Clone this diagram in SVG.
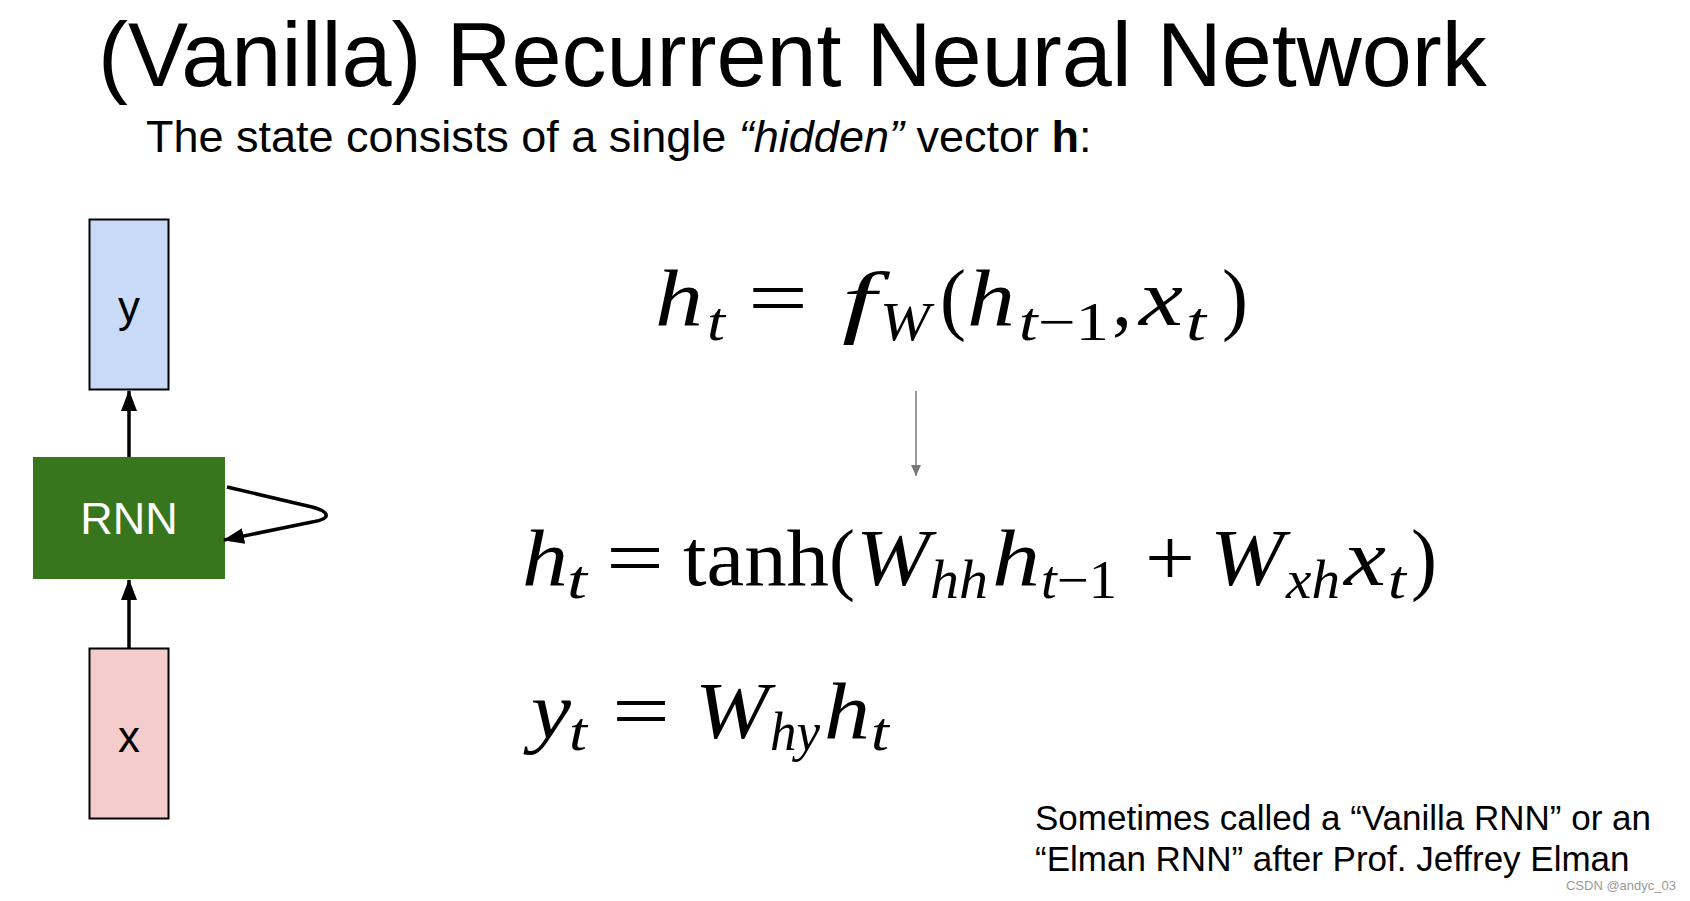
<svg xmlns="http://www.w3.org/2000/svg" width="1690" height="901" viewBox="0 0 1690 901">
<style>
.sans{font-family:"Liberation Sans",Arial,sans-serif;fill:#000}
.m{font-family:"Liberation Serif","Times New Roman",serif;fill:#000;font-size:80px}
.i{font-style:italic}
.s{font-size:54px}
.box{stroke:#000;stroke-width:2}
.edge{fill:none;stroke:#000;stroke-width:3.5}
</style>
<defs>
<marker id="ah" markerUnits="userSpaceOnUse" markerWidth="22" markerHeight="18" refX="20" refY="8" orient="auto">
<path d="M0,0 L21,8 L0,16 z" fill="#000"/>
</marker>
<marker id="ahg" markerUnits="userSpaceOnUse" markerWidth="12" markerHeight="10" refX="11" refY="5" orient="auto">
<path d="M0,0 L11,5 L0,10 z" fill="#777"/>
</marker>
</defs>
<rect width="1690" height="901" fill="#fff"/>
<g id="title">
<text class="sans" x="98" y="86" font-size="90">(Vanilla) Recurrent Neural Network</text>
<text class="sans" x="146" y="152" font-size="45">The state consists of a single <tspan font-style="italic">“hidden”</tspan> vector <tspan font-weight="bold">h</tspan>:</text>
</g>
<g id="node-y">
<rect class="box" x="89.5" y="219.5" width="79" height="170" fill="#c9daf8"/>
<text class="sans" x="129" y="322" font-size="44" text-anchor="middle">y</text>
</g>
<g id="node-rnn">
<rect x="33" y="457" width="192" height="122" fill="#38761d"/>
<text class="sans" x="129" y="534" font-size="45" text-anchor="middle" style="fill:#fff">RNN</text>
</g>
<g id="node-x">
<rect class="box" x="89.5" y="648.5" width="79" height="170" fill="#f4cccc"/>
<text class="sans" x="129" y="752" font-size="44" text-anchor="middle">x</text>
</g>
<g id="connectors">
<line class="edge" x1="129" y1="457" x2="129" y2="391" marker-end="url(#ah)"/>
<line class="edge" x1="129" y1="648" x2="129" y2="580" marker-end="url(#ah)"/>
<path class="edge" d="M227,487 L312,507 C331,512 331,519 312,522 L224,540" marker-end="url(#ah)"/>
<line x1="916" y1="391" x2="916" y2="476" stroke="#777" stroke-width="1.5" marker-end="url(#ahg)"/>
</g>
<g id="eq1">
<text class="m i" x="655" y="325" textLength="48" lengthAdjust="spacingAndGlyphs">h</text>
<text class="m i s" x="707" y="340" textLength="18" lengthAdjust="spacingAndGlyphs">t</text>
<text class="m" x="748" y="325" textLength="60" lengthAdjust="spacingAndGlyphs">=</text>
<text class="m i" x="842" y="328" font-size="92" textLength="34" lengthAdjust="spacingAndGlyphs">f</text>
<text class="m i s" x="880" y="340" textLength="50" lengthAdjust="spacingAndGlyphs">W</text>
<text class="m" x="940" y="325" textLength="26" lengthAdjust="spacingAndGlyphs">(</text>
<text class="m i" x="967" y="325" textLength="48" lengthAdjust="spacingAndGlyphs">h</text>
<text class="m s" x="1019" y="340" textLength="90" lengthAdjust="spacingAndGlyphs"><tspan font-style="italic">t</tspan>−1</text>
<text class="m" x="1112" y="325">,</text>
<text class="m i" x="1139" y="325" textLength="44" lengthAdjust="spacingAndGlyphs">x</text>
<text class="m i s" x="1186" y="340" textLength="20" lengthAdjust="spacingAndGlyphs">t</text>
<text class="m" x="1222" y="325" textLength="26" lengthAdjust="spacingAndGlyphs">)</text>
</g>
<g id="eq2">
<text class="m i" x="522" y="585" textLength="46" lengthAdjust="spacingAndGlyphs">h</text>
<text class="m i s" x="567" y="598" textLength="20" lengthAdjust="spacingAndGlyphs">t</text>
<text class="m" x="606" y="585" textLength="58" lengthAdjust="spacingAndGlyphs">=</text>
<text class="m" x="683" y="585" textLength="146" lengthAdjust="spacingAndGlyphs">tanh</text>
<text class="m" x="829" y="585" textLength="26" lengthAdjust="spacingAndGlyphs">(</text>
<text class="m i" x="856" y="585" textLength="74" lengthAdjust="spacingAndGlyphs">W</text>
<text class="m i s" x="930" y="598" textLength="58" lengthAdjust="spacingAndGlyphs">hh</text>
<text class="m i" x="992" y="585" textLength="48" lengthAdjust="spacingAndGlyphs">h</text>
<text class="m s" x="1041" y="598" textLength="76" lengthAdjust="spacingAndGlyphs"><tspan font-style="italic">t</tspan>−1</text>
<text class="m" x="1145" y="585" textLength="50" lengthAdjust="spacingAndGlyphs">+</text>
<text class="m i" x="1210" y="585" textLength="74" lengthAdjust="spacingAndGlyphs">W</text>
<text class="m i s" x="1286" y="598" textLength="54" lengthAdjust="spacingAndGlyphs">xh</text>
<text class="m i" x="1344" y="585" textLength="42" lengthAdjust="spacingAndGlyphs">x</text>
<text class="m i s" x="1388" y="598" textLength="18" lengthAdjust="spacingAndGlyphs">t</text>
<text class="m" x="1411" y="585" textLength="26" lengthAdjust="spacingAndGlyphs">)</text>
</g>
<g id="eq3">
<text class="m i" x="531" y="738" textLength="40" lengthAdjust="spacingAndGlyphs">y</text>
<text class="m i s" x="569" y="750" textLength="18" lengthAdjust="spacingAndGlyphs">t</text>
<text class="m" x="612" y="738" textLength="58" lengthAdjust="spacingAndGlyphs">=</text>
<text class="m i" x="695" y="738" textLength="74" lengthAdjust="spacingAndGlyphs">W</text>
<text class="m i s" x="770" y="750" textLength="50" lengthAdjust="spacingAndGlyphs">hy</text>
<text class="m i" x="824" y="738" textLength="46" lengthAdjust="spacingAndGlyphs">h</text>
<text class="m i s" x="871" y="750" textLength="18" lengthAdjust="spacingAndGlyphs">t</text>
</g>
<g id="note">
<text class="sans" x="1035" y="830" font-size="35">Sometimes called a “Vanilla RNN” or an</text>
<text class="sans" x="1035" y="871" font-size="35">“Elman RNN” after Prof. Jeffrey Elman</text>
<text x="1676" y="890" font-size="13" text-anchor="end" style="font-family:'Liberation Sans',Arial,sans-serif;fill:#999">CSDN @andyc_03</text>
</g>
</svg>
